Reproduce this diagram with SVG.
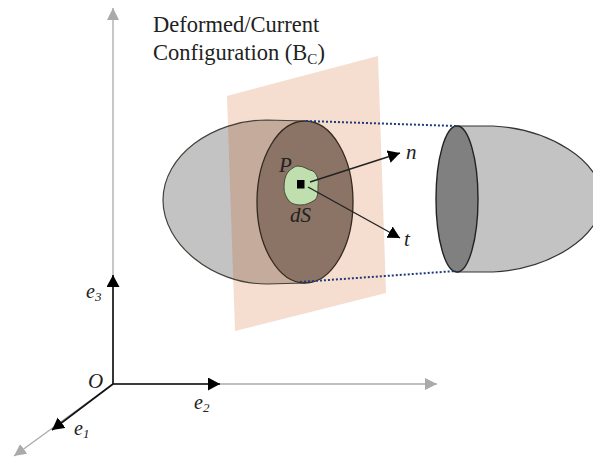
<svg xmlns="http://www.w3.org/2000/svg" width="593" height="457" viewBox="0 0 593 457">
<style>
text{font-family:"Liberation Serif",serif;fill:#222}
.t{font-size:22.5px}
.i{font-style:italic;font-size:20px}
.n{font-size:21px}
.s{font-size:13px}
.b{font-size:15px}
.g{stroke:#aaa;stroke-width:1.3;fill:none}
.k{stroke:#111;stroke-width:1.6;fill:none}
.o{stroke:#33291f;stroke-width:1.3}
.d{stroke:#1f3a78;stroke-width:2;stroke-dasharray:2 2;fill:none}
</style>
<defs>
<marker id="ka" markerUnits="userSpaceOnUse" markerWidth="13" markerHeight="14" refX="12" refY="6.5" orient="auto"><path d="M0 0L12 6.5L0 13Z" fill="#000"/></marker>
<marker id="ga" markerUnits="userSpaceOnUse" markerWidth="13" markerHeight="14" refX="12" refY="6" orient="auto"><path d="M0 0L12 6L0 12Z" fill="#aaa"/></marker>
<clipPath id="pl"><path d="M227 96L378 56L386 293L235 331Z"/></clipPath>
</defs>
<g id="plane"><path d="M227 96L378 56L386 293L235 331Z" fill="#f5ddcf"/></g>
<g id="left-body">
<path d="M305 121L267 120C212 120 163 156 163 200C163 244 212 284 267 284L305 283Z" fill="#c3c3c3"/>
<path d="M305 121L267 120C212 120 163 156 163 200C163 244 212 284 267 284L305 283Z" fill="#c4ab9b" clip-path="url(#pl)"/>
<path d="M305 121L267 120C212 120 163 156 163 200C163 244 212 284 267 284L305 283" fill="none" stroke="#45403a" stroke-width="1.2"/>
</g>
<g id="disk"><ellipse cx="305" cy="202" rx="48" ry="81" fill="#8b7465" class="o"/></g>
<g id="right-body">
<path d="M457 126L493 126C548 129 602 160 602 199C602 238 548 269 493 272L457 272Z" fill="#c3c3c3" stroke="#333" stroke-width="1.2"/>
<ellipse cx="457" cy="199" rx="21" ry="73" fill="#808080" stroke="#222" stroke-width="1.4"/>
</g>
<g id="connectors">
<path class="d" d="M306 121L456 126M300 282L456 271"/>
<path class="g" d="M113 384V8" marker-end="url(#ga)"/>
<path class="g" d="M113 384H437" marker-end="url(#ga)"/>
<path class="g" d="M113 384L14 456" marker-end="url(#ga)"/>
<path class="k" d="M113 384V275" marker-end="url(#ka)"/>
<path class="k" d="M113 384H220" marker-end="url(#ka)"/>
<path class="k" d="M113 384L52 430" marker-end="url(#ka)"/>
</g>
<g id="patch">
<path d="M298 166C304 166 308 170 313 171C317 174 319 180 318 186C318 192 318 197 315 200C310 203 306 205 301 205C296 205 292 204 289 201C286 197 284 193 284 188C284 181 285 176 288 172C291 169 295 166 298 166Z" fill="#c0dfae" stroke="#4a4a3a" stroke-width="1"/>
<rect x="297" y="180" width="7.5" height="8.5" fill="#000"/>
</g>
<g id="vectors">
<path d="M310 182L400 153" stroke="#222" stroke-width="1.4" marker-end="url(#ka)"/>
<path d="M308 187L400 238" stroke="#222" stroke-width="1.4" marker-end="url(#ka)"/>
</g>
<g id="labels">
<text class="t" x="153" y="32">Deformed/Current</text>
<text class="t" x="153" y="60">Configuration (B<tspan class="b" dy="4">C</tspan><tspan dy="-4">)</tspan></text>
<text class="i n" x="279" y="172">P</text>
<text class="i n" x="290" y="222">dS</text>
<text class="i n" x="406" y="159">n</text>
<text class="i n" x="404" y="246">t</text>
<text class="i n" x="88" y="388">O</text>
<text class="i" x="86" y="298">e<tspan class="s" dy="3">3</tspan></text>
<text class="i" x="194" y="409">e<tspan class="s" dy="3">2</tspan></text>
<text class="i" x="74" y="435">e<tspan class="s" dy="3">1</tspan></text>
</g>
</svg>
